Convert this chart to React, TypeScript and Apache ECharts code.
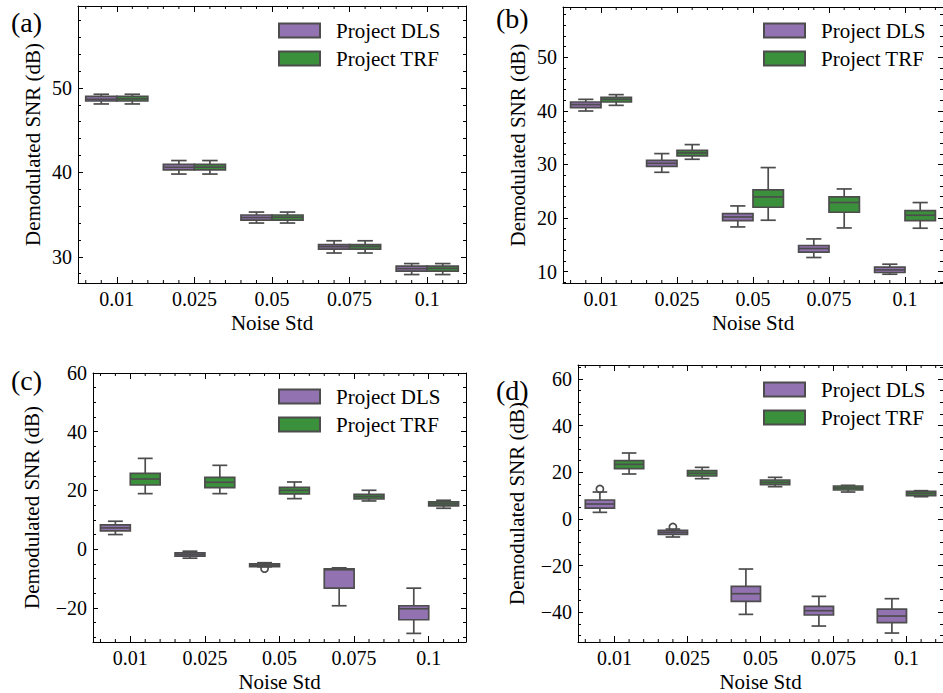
import React, { useEffect, useRef } from 'react';
import * as echarts from 'echarts';

// ---------- data ----------
const categories = ['0.01', '0.025', '0.05', '0.075', '0.1'];
const seriesNames = ['Project DLS', 'Project TRF'];

// each box: [low whisker, Q1, median, Q3, high whisker]
const aDLS = [[48.1, 48.45, 48.65, 49.0, 49.25], [39.8, 40.3, 40.6, 40.95, 41.4], [34.0, 34.35, 34.65, 34.95, 35.3], [30.45, 30.9, 31.2, 31.45, 31.9], [27.9, 28.3, 28.6, 28.9, 29.2]];
const aTRF = [[48.1, 48.45, 48.7, 49.0, 49.25], [39.8, 40.3, 40.62, 40.95, 41.4], [34.0, 34.35, 34.68, 34.95, 35.3], [30.45, 30.9, 31.22, 31.45, 31.9], [27.9, 28.3, 28.63, 28.9, 29.2]];

const bDLS = [[39.98, 40.62, 41.18, 41.66, 42.16], [28.54, 29.66, 30.22, 30.78, 32.03], [18.34, 19.53, 20.2, 20.84, 22.26], [12.63, 13.62, 14.31, 14.87, 16.1], [9.51, 9.83, 10.32, 10.82, 11.38]];
const bTRF = [[41.04, 41.66, 42.16, 42.54, 43.04], [30.97, 31.59, 32.15, 32.65, 33.71], [19.59, 22.01, 23.94, 25.24, 29.42], [18.15, 21.08, 22.89, 23.94, 25.43], [18.1, 19.53, 20.52, 21.4, 22.89]];

const cDLS = [[4.99, 6.23, 7.25, 8.27, 9.52], [-3.06, -2.38, -1.8, -1.23, -0.68], [-6.0, -5.9, -5.45, -5.0, -4.6], [-19.26, -13.26, -7.0, -6.69, -6.35], [-28.67, -24.02, -20.28, -19.26, -13.26]];
const cTRF = [[18.92, 21.87, 23.9, 25.84, 30.93], [18.92, 20.96, 22.78, 24.48, 28.56], [17.22, 18.81, 20.06, 21.08, 22.89], [16.43, 17.1, 17.9, 18.7, 20.06], [13.94, 14.73, 15.41, 16.09, 16.66]];

const dDLS = [[2.86, 4.71, 6.43, 8.14, 11.57], [-7.71, -6.57, -5.71, -4.86, -4.3], [-40.86, -35.29, -32.0, -28.86, -21.43], [-45.86, -41.14, -39.29, -37.43, -33.14], [-48.86, -44.43, -41.57, -38.57, -34.14]];
const dTRF = [[19.29, 21.57, 23.43, 25.0, 28.29], [17.29, 18.43, 19.57, 20.71, 22.14], [13.86, 14.71, 15.71, 16.71, 17.86], [11.57, 12.43, 13.29, 14.14, 14.43], [9.57, 10.0, 11.0, 11.86, 12.14]];

// outliers of Project DLS: [category index, value]
const aOut: number[][] = [];
const bOut: number[][] = [];
const cOut = [[2, -6.6]];
const dOut = [[0, 12.86], [1, -3.43]];

// minor x ticks, in category units
const minorXTicks = [-0.4, -0.2, 0.2, 0.4, 0.6, 0.8, 1.2, 1.4, 1.6, 1.8, 2.2, 2.4, 2.6, 2.8, 3.2, 3.4, 3.6, 3.8, 4.2, 4.4];

// ---------- style / layout ----------
const FONT = 'Liberation Serif, DejaVu Serif, serif';
const LINE = '#4d4d4d';
const DLS_COLOR = '#9372b2';
const TRF_COLOR = '#3b913b';
const LW = 1.7;

const panels = [
  { label: '(a)', lx: 11, ly: 22, dls: aDLS, trf: aTRF, out: aOut, yMin: 26.9, yMax: 59.7, split: 3, minor: 5, showMax: false,
    grid: { left: 78, top: 6, right: 477, bottom: 410 }, nameGapY: 35, legend: { left: 278, top: 20 } },
  { label: '(b)', lx: 496, ly: 18, dls: bDLS, trf: bTRF, out: bOut, yMin: 7.87, yMax: 59.4, split: 5, minor: 5, showMax: false,
    grid: { left: 563, top: 7, right: -8, bottom: 410 }, nameGapY: 35, legend: { left: 763, top: 20 } },
  { label: '(c)', lx: 11, ly: 380, dls: cDLS, trf: cTRF, out: cOut, yMin: -31.6, yMax: 60, split: 5, minor: 4, showMax: true,
    grid: { left: 93, top: 373, right: 477, bottom: 51 }, nameGapY: 51, legend: { left: 278, top: 386 } },
  { label: '(d)', lx: 496, ly: 390, dls: dDLS, trf: dTRF, out: dOut, yMin: -52.7, yMax: 66, split: 5, minor: 4, showMax: false,
    grid: { left: 578, top: 365, right: -8, bottom: 51 }, nameGapY: 51, legend: { left: 763, top: 379 } },
];

function boxRenderer(offsetFrac: number, fill: string) {
  return (params: any, api: any) => {
    const c = api.value(0);
    const bw = api.size([1, 0])[0];
    const cx = api.coord([c, 0])[0] + offsetFrac * bw;
    const half = bw * 0.2;
    const y = (i: number) => api.coord([c, api.value(i)])[1];
    const yLow = y(1), yQ1 = y(2), yMed = y(3), yQ3 = y(4), yHigh = y(5);
    const ls = { stroke: LINE, lineWidth: LW };
    return {
      type: 'group',
      children: [
        { type: 'line', shape: { x1: cx, y1: yHigh, x2: cx, y2: yQ3 }, style: ls },
        { type: 'line', shape: { x1: cx, y1: yQ1, x2: cx, y2: yLow }, style: ls },
        { type: 'line', shape: { x1: cx - half / 2, y1: yHigh, x2: cx + half / 2, y2: yHigh }, style: ls },
        { type: 'line', shape: { x1: cx - half / 2, y1: yLow, x2: cx + half / 2, y2: yLow }, style: ls },
        { type: 'rect', shape: { x: cx - half, y: yQ3, width: 2 * half, height: yQ1 - yQ3 }, style: { fill, stroke: LINE, lineWidth: LW } },
        { type: 'line', shape: { x1: cx - half, y1: yMed, x2: cx + half, y2: yMed }, style: ls },
      ],
    };
  };
}

function outlierRenderer(offsetFrac: number) {
  return (params: any, api: any) => {
    const c = api.value(0);
    const bw = api.size([1, 0])[0];
    const p = api.coord([c, api.value(1)]);
    return {
      type: 'circle',
      shape: { cx: p[0] + offsetFrac * bw, cy: p[1], r: 3.6 },
      style: { fill: 'none', stroke: LINE, lineWidth: LW },
    };
  };
}

function minorTickRenderer(params: any, api: any) {
  const cs = params.coordSys;
  const bw = api.size([1, 0])[0];
  const x0 = api.coord([0, api.value(1)])[0];
  const x = x0 + api.value(2) * bw;
  const st = { stroke: '#000', lineWidth: 1 };
  return {
    type: 'group',
    children: [
      { type: 'line', shape: { x1: x, y1: cs.y + cs.height, x2: x, y2: cs.y + cs.height - 3 }, style: st },
      { type: 'line', shape: { x1: x, y1: cs.y, x2: x, y2: cs.y + 3 }, style: st },
    ],
  };
}

const fmt = (v: number) => (v < 0 ? '\u2212' + Math.abs(v) : String(v));

function buildOption() {
  const grid: any[] = [];
  const xAxis: any[] = [];
  const yAxis: any[] = [];
  const series: any[] = [];
  const legend: any[] = [];
  const graphic: any[] = [];
  const axisLine = { show: true, onZero: false, lineStyle: { color: '#000', width: 1 } };

  panels.forEach((p, i) => {
    grid.push({ ...p.grid, containLabel: false });
    xAxis.push({
      gridIndex: i, type: 'category', data: categories, position: 'bottom', boundaryGap: true,
      axisLine, axisTick: { show: true, inside: true, alignWithLabel: true, length: 6, lineStyle: { color: '#000' } },
      axisLabel: { margin: 6, color: '#000', fontFamily: FONT, fontSize: 20 },
      splitLine: { show: false },
      name: 'Noise Std', nameLocation: 'middle', nameGap: 29,
      nameTextStyle: { fontFamily: FONT, fontSize: 21, color: '#000' },
    });
    xAxis.push({
      gridIndex: i, type: 'category', data: categories, position: 'top', boundaryGap: true,
      axisLine, axisTick: { show: true, inside: true, alignWithLabel: true, length: 6, lineStyle: { color: '#000' } },
      axisLabel: { show: false }, splitLine: { show: false },
    });
    const yBase = {
      gridIndex: i, type: 'value', min: p.yMin, max: p.yMax, splitNumber: p.split, scale: true,
      axisLine, axisTick: { show: true, inside: true, length: 5, lineStyle: { color: '#000' } },
      minorTick: { show: true, splitNumber: p.minor, length: 3, lineStyle: { color: '#000' } },
      splitLine: { show: false }, minorSplitLine: { show: false },
    };
    yAxis.push({
      ...yBase, position: 'left',
      axisLabel: { showMinLabel: false, showMaxLabel: p.showMax, formatter: fmt, margin: 6, color: '#000', fontFamily: FONT, fontSize: 20 },
      name: 'Demodulated SNR (dB)', nameLocation: 'middle', nameGap: p.nameGapY,
      nameTextStyle: { fontFamily: FONT, fontSize: 21, color: '#000' },
    });
    yAxis.push({ ...yBase, position: 'right', axisLabel: { show: false } });

    const xi = 2 * i;
    series.push({
      type: 'custom', name: seriesNames[0], xAxisIndex: xi, yAxisIndex: xi,
      data: p.dls.map((b, k) => [k, ...b]), encode: { x: 0, y: [1, 2, 3, 4, 5] },
      renderItem: boxRenderer(-0.2, DLS_COLOR), itemStyle: { color: DLS_COLOR }, silent: true,
    });
    series.push({
      type: 'custom', name: seriesNames[1], xAxisIndex: xi, yAxisIndex: xi,
      data: p.trf.map((b, k) => [k, ...b]), encode: { x: 0, y: [1, 2, 3, 4, 5] },
      renderItem: boxRenderer(0.2, TRF_COLOR), itemStyle: { color: TRF_COLOR }, silent: true,
    });
    if (p.out.length) {
      series.push({
        type: 'custom', name: 'outliers', xAxisIndex: xi, yAxisIndex: xi,
        data: p.out, encode: { x: 0, y: 1 }, renderItem: outlierRenderer(-0.2), silent: true,
      });
    }
    series.push({
      type: 'custom', name: 'minorTicks', xAxisIndex: xi, yAxisIndex: xi,
      data: minorXTicks.map((t) => [0, p.yMin, t]), encode: { x: 0, y: 1 },
      renderItem: minorTickRenderer, silent: true, clip: false,
    });

    legend.push({
      orient: 'vertical', left: p.legend.left, top: p.legend.top, itemWidth: 41, itemHeight: 14, itemGap: 7,
      icon: 'rect', selectedMode: false, padding: 0,
      textStyle: { fontFamily: FONT, fontSize: 21, color: '#000', lineHeight: 21, padding: [0, 0, 0, 11] },
      data: [
        { name: seriesNames[0], itemStyle: { color: DLS_COLOR, borderColor: LINE, borderWidth: 2 } },
        { name: seriesNames[1], itemStyle: { color: TRF_COLOR, borderColor: LINE, borderWidth: 2 } },
      ],
    });
    graphic.push({
      type: 'text', x: p.lx, y: p.ly,
      style: { text: p.label, fontFamily: FONT, fontSize: 28, fill: '#000', verticalAlign: 'middle', align: 'left' },
    });
  });

  return { animation: false, backgroundColor: '#fff', textStyle: { fontFamily: FONT }, grid, xAxis, yAxis, series, legend, graphic };
}

export default function App() {
  const ref = useRef<HTMLDivElement>(null);
  useEffect(() => {
    if (!ref.current) return;
    const chart = echarts.init(ref.current, null, { renderer: 'svg' });
    chart.setOption(buildOption() as any);
    return () => chart.dispose();
  }, []);
  return (
    <div
      ref={ref}
      style={{ position: 'fixed', left: 0, top: 0, width: 943, height: 693, background: '#fff' }}
    />
  );
}
